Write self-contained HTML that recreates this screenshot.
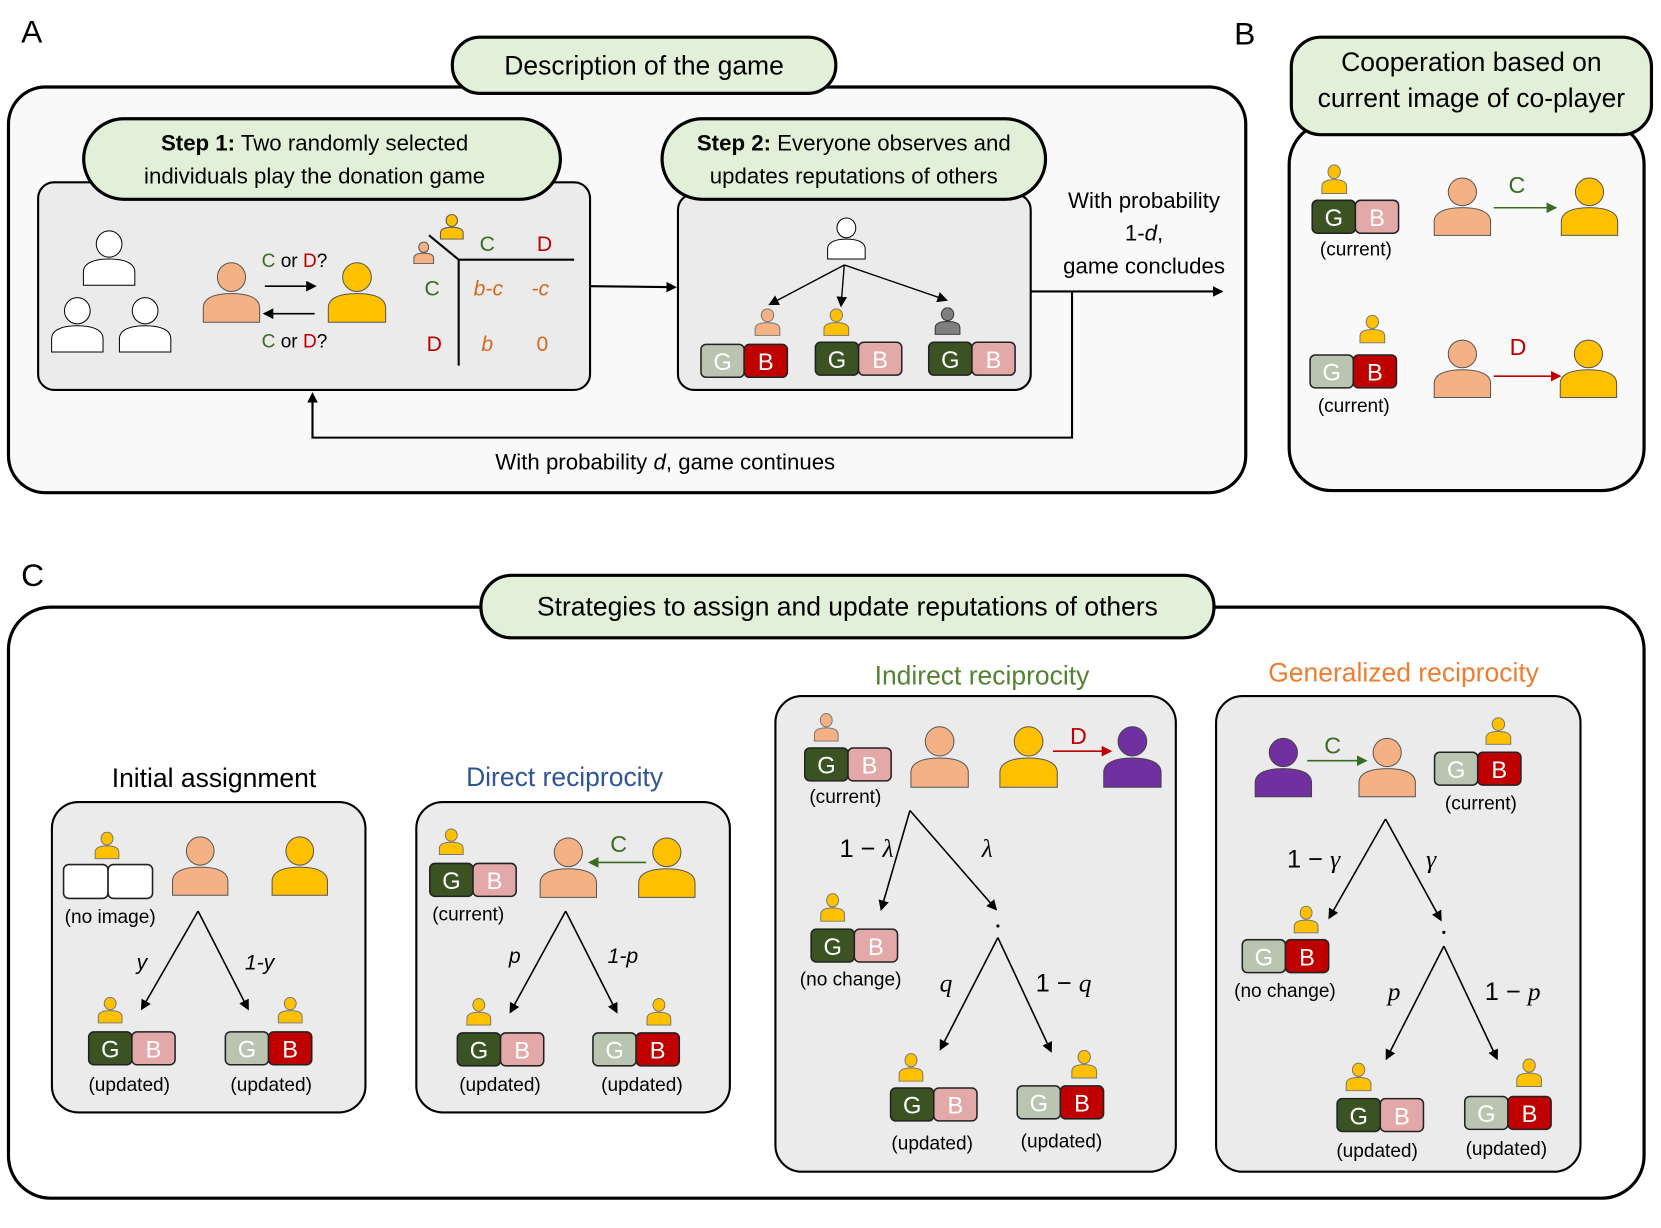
<!DOCTYPE html>
<html><head><meta charset="utf-8"><style>
html,body{margin:0;padding:0;background:#fff}
svg{display:block}
text{font-family:"Liberation Sans",sans-serif}
.c{text-anchor:middle}
.m{font-family:"Liberation Serif",serif;font-style:italic}
</style></head><body>
<svg width="1661" height="1228" viewBox="0 0 1568 1159" xmlns="http://www.w3.org/2000/svg">
<defs>
<symbol id="p" viewBox="0 0 60 60" preserveAspectRatio="none">
<circle cx="30" cy="15" r="14" vector-effect="non-scaling-stroke"/>
<path d="M2 59 V45 C2 35 14 31 30 31 C46 31 58 35 58 45 V59 Z" vector-effect="non-scaling-stroke"/>
</symbol>
<symbol id="gG" viewBox="0 0 86 34">
<rect x="1" y="1" width="42" height="32" rx="5" fill="#3b5323" stroke="#222" stroke-width="1.5"/>
<rect x="43" y="1" width="42" height="32" rx="5" fill="#e3a9a9" stroke="#222" stroke-width="1.5"/>
<text x="22" y="26" class="c" font-size="23" fill="#fff">G</text>
<text x="64" y="26" class="c" font-size="23" fill="#fff">B</text>
</symbol>
<symbol id="gB" viewBox="0 0 86 34">
<rect x="1" y="1" width="42" height="32" rx="5" fill="#b9c4b1" stroke="#222" stroke-width="1.5"/>
<rect x="43" y="1" width="42" height="32" rx="5" fill="#c00000" stroke="#222" stroke-width="1.5"/>
<text x="22" y="26" class="c" font-size="23" fill="#fff">G</text>
<text x="64" y="26" class="c" font-size="23" fill="#fff">B</text>
</symbol>
<marker id="ak" markerWidth="10" markerHeight="10" refX="8" refY="5" orient="auto" markerUnits="userSpaceOnUse"><path d="M0 0 L10 5 L0 10 Z" fill="#000"/></marker>
<marker id="ag" markerWidth="10" markerHeight="10" refX="8" refY="5" orient="auto" markerUnits="userSpaceOnUse"><path d="M0 0 L10 5 L0 10 Z" fill="#3b6b22"/></marker>
<marker id="ar" markerWidth="10" markerHeight="10" refX="8" refY="5" orient="auto" markerUnits="userSpaceOnUse"><path d="M0 0 L10 5 L0 10 Z" fill="#c00000"/></marker>
</defs>

<text x="20" y="40" font-size="30">A</text>
<text x="1165" y="42" font-size="30">B</text>
<text x="20" y="553" font-size="30">C</text>

<!-- PANEL A -->
<rect x="8" y="82" width="1168" height="383" rx="35" fill="#f9f9f9" stroke="#000" stroke-width="3"/>
<rect x="427" y="35" width="362" height="53" rx="26" fill="#e2efd9" stroke="#000" stroke-width="3"/>
<text x="608" y="70" class="c" font-size="25">Description of the game</text>

<rect x="36" y="172" width="521" height="196" rx="15" fill="#ebebeb" stroke="#000" stroke-width="2"/>
<rect x="79" y="112" width="450" height="76" rx="38" fill="#e2efd9" stroke="#000" stroke-width="3"/>
<text x="297" y="142" class="c" font-size="21"><tspan font-weight="bold">Step 1:</tspan> Two randomly selected</text>
<text x="297" y="173" class="c" font-size="21">individuals play the donation game</text>

<rect x="640" y="183" width="333" height="185" rx="15" fill="#ebebeb" stroke="#000" stroke-width="2"/>
<rect x="625" y="112" width="362" height="76" rx="38" fill="#e2efd9" stroke="#000" stroke-width="3"/>
<text x="806" y="142" class="c" font-size="21"><tspan font-weight="bold">Step 2:</tspan> Everyone observes and</text>
<text x="806" y="173" class="c" font-size="21">updates reputations of others</text>

<line x1="557" y1="270" x2="637" y2="271" stroke="#000" stroke-width="2" marker-end="url(#ak)"/>

<use href="#p" x="77" y="217" width="52" height="53" fill="#fff" stroke="#000"/>
<use href="#p" x="47" y="280" width="52" height="53" fill="#fff" stroke="#000"/>
<use href="#p" x="111" y="280" width="52" height="53" fill="#fff" stroke="#000"/>
<use href="#p" x="190" y="247" width="57" height="58" fill="#f4b183" stroke="#555"/>
<use href="#p" x="308" y="247" width="58" height="58" fill="#ffc000" stroke="#555"/>
<text x="278" y="252" class="c" font-size="18"><tspan fill="#3b6b22">C</tspan> or <tspan fill="#c00000">D</tspan>?</text>
<line x1="250" y1="270" x2="297" y2="270" stroke="#000" stroke-width="1.5" marker-end="url(#ak)"/>
<line x1="297" y1="296" x2="250" y2="296" stroke="#000" stroke-width="1.5" marker-end="url(#ak)"/>
<text x="278" y="328" class="c" font-size="18"><tspan fill="#3b6b22">C</tspan> or <tspan fill="#c00000">D</tspan>?</text>

<use href="#p" x="415" y="202" width="23" height="24" fill="#ffc000" stroke="#555"/>
<use href="#p" x="390" y="228" width="20" height="21" fill="#f4b183" stroke="#555"/>
<line x1="405" y1="222" x2="433" y2="245" stroke="#000" stroke-width="2"/>
<line x1="433" y1="245" x2="542" y2="245" stroke="#000" stroke-width="2"/>
<line x1="433" y1="245" x2="433" y2="345" stroke="#000" stroke-width="2"/>
<text x="460" y="237" class="c" font-size="20" fill="#3b6b22">C</text>
<text x="514" y="237" class="c" font-size="20" fill="#c00000">D</text>
<text x="408" y="279" class="c" font-size="20" fill="#3b6b22">C</text>
<text x="410" y="331" class="c" font-size="20" fill="#c00000">D</text>
<text x="461" y="279" class="c" font-size="20" fill="#d46a1e" font-style="italic">b-c</text>
<text x="510" y="279" class="c" font-size="20" fill="#d46a1e" font-style="italic">-c</text>
<text x="460" y="331" class="c" font-size="20" fill="#d46a1e" font-style="italic">b</text>
<text x="512" y="331" class="c" font-size="20" fill="#d46a1e">0</text>

<use href="#p" x="780" y="205" width="38" height="40" fill="#fff" stroke="#000"/>
<line x1="797" y1="250" x2="727" y2="287" stroke="#000" stroke-width="1.3" marker-end="url(#ak)"/>
<line x1="797" y1="250" x2="794" y2="288" stroke="#000" stroke-width="1.3" marker-end="url(#ak)"/>
<line x1="797" y1="250" x2="893" y2="283" stroke="#000" stroke-width="1.3" marker-end="url(#ak)"/>
<use href="#p" x="712" y="291" width="25" height="26" fill="#f4b183" stroke="#777"/>
<use href="#p" x="777" y="291" width="25" height="26" fill="#ffc000" stroke="#777"/>
<use href="#p" x="882" y="290" width="25" height="26" fill="#7f7f7f" stroke="#333"/>
<use href="#gB" x="660" y="324" width="85" height="33"/>
<use href="#gG" x="768" y="322" width="85" height="33"/>
<use href="#gG" x="875" y="322" width="85" height="33"/>

<text x="1080" y="196" class="c" font-size="21">With probability</text>
<text x="1080" y="227" class="c" font-size="21">1-<tspan font-style="italic">d</tspan>,</text>
<text x="1080" y="258" class="c" font-size="21">game concludes</text>
<line x1="973" y1="275" x2="1153" y2="275" stroke="#000" stroke-width="2" marker-end="url(#ak)"/>
<polyline points="1012,275 1012,413 295,413 295,372" fill="none" stroke="#000" stroke-width="2" marker-end="url(#ak)"/>
<text x="628" y="443" class="c" font-size="21">With probability <tspan font-style="italic">d</tspan>, game continues</text>

<!-- PANEL B -->
<rect x="1217" y="115" width="335" height="348" rx="40" fill="#f9f9f9" stroke="#000" stroke-width="3"/>
<rect x="1219" y="35" width="340" height="92" rx="28" fill="#e2efd9" stroke="#000" stroke-width="3"/>
<text x="1389" y="67" class="c" font-size="25">Cooperation based on</text>
<text x="1389" y="101" class="c" font-size="25">current image of co-player</text>

<use href="#p" x="1247" y="155" width="25" height="28" fill="#ffc000" stroke="#777"/>
<use href="#gG" x="1237" y="188" width="85" height="33"/>
<text x="1280" y="241" class="c" font-size="18">(current)</text>
<use href="#p" x="1352" y="167" width="57" height="56" fill="#f4b183" stroke="#555"/>
<line x1="1410" y1="196" x2="1468" y2="196" stroke="#3b6b22" stroke-width="1.5" marker-end="url(#ag)"/>
<text x="1432" y="182" class="c" font-size="22" fill="#3b6b22">C</text>
<use href="#p" x="1472" y="167" width="57" height="56" fill="#ffc000" stroke="#555"/>

<use href="#p" x="1283" y="297" width="25" height="27" fill="#ffc000" stroke="#777"/>
<use href="#gB" x="1235" y="334" width="85" height="33"/>
<text x="1278" y="389" class="c" font-size="18">(current)</text>
<use href="#p" x="1352" y="320" width="57" height="56" fill="#f4b183" stroke="#555"/>
<line x1="1410" y1="355" x2="1472" y2="355" stroke="#c00000" stroke-width="1.5" marker-end="url(#ar)"/>
<text x="1433" y="335" class="c" font-size="22" fill="#c00000">D</text>
<use href="#p" x="1471" y="320" width="57" height="56" fill="#ffc000" stroke="#555"/>

<!-- PANEL C -->
<rect x="8" y="573" width="1544" height="558" rx="40" fill="#fff" stroke="#000" stroke-width="3"/>
<rect x="454" y="543" width="692" height="59" rx="29" fill="#e2efd9" stroke="#000" stroke-width="3"/>
<text x="800" y="581" class="c" font-size="25">Strategies to assign and update reputations of others</text>

<!-- Initial assignment -->
<text x="202" y="743" class="c" font-size="25">Initial assignment</text>
<rect x="49" y="757" width="296" height="293" rx="25" fill="#ebebeb" stroke="#000" stroke-width="2"/>
<use href="#p" x="89" y="785" width="24" height="26" fill="#ffc000" stroke="#777"/>
<rect x="60" y="816" width="42" height="32" rx="5" fill="#fff" stroke="#222" stroke-width="1.5"/>
<rect x="102" y="816" width="42" height="32" rx="5" fill="#fff" stroke="#222" stroke-width="1.5"/>
<text x="104" y="871" class="c" font-size="18">(no image)</text>
<use href="#p" x="161" y="789" width="56" height="57" fill="#f4b183" stroke="#555"/>
<use href="#p" x="255" y="789" width="56" height="57" fill="#ffc000" stroke="#555"/>
<line x1="187" y1="860" x2="134" y2="952" stroke="#000" stroke-width="1.5" marker-end="url(#ak)"/>
<line x1="187" y1="860" x2="234" y2="952" stroke="#000" stroke-width="1.5" marker-end="url(#ak)"/>
<text x="134" y="915" class="c" font-size="20" font-style="italic">y</text>
<text x="245" y="915" class="c" font-size="20" font-style="italic">1-y</text>
<use href="#p" x="92" y="941" width="24" height="25" fill="#ffc000" stroke="#777"/>
<use href="#gG" x="82" y="973" width="85" height="33"/>
<text x="122" y="1030" class="c" font-size="18">(updated)</text>
<use href="#p" x="262" y="941" width="24" height="25" fill="#ffc000" stroke="#777"/>
<use href="#gB" x="211" y="973" width="85" height="33"/>
<text x="256" y="1030" class="c" font-size="18">(updated)</text>

<!-- Direct reciprocity -->
<text x="533" y="742" class="c" font-size="25" fill="#2f5597">Direct reciprocity</text>
<rect x="393" y="757" width="296" height="293" rx="25" fill="#ebebeb" stroke="#000" stroke-width="2"/>
<use href="#p" x="414" y="782" width="24" height="25" fill="#ffc000" stroke="#777"/>
<use href="#gG" x="404" y="814" width="85" height="33"/>
<text x="442" y="869" class="c" font-size="18">(current)</text>
<use href="#p" x="508" y="790" width="57" height="58" fill="#f4b183" stroke="#555"/>
<line x1="610" y1="814" x2="557" y2="814" stroke="#3b6b22" stroke-width="1.5" marker-end="url(#ag)"/>
<text x="584" y="804" class="c" font-size="22" fill="#3b6b22">C</text>
<use href="#p" x="601" y="790" width="57" height="58" fill="#ffc000" stroke="#555"/>
<line x1="534" y1="860" x2="482" y2="955" stroke="#000" stroke-width="1.5" marker-end="url(#ak)"/>
<line x1="534" y1="860" x2="582" y2="955" stroke="#000" stroke-width="1.5" marker-end="url(#ak)"/>
<text x="486" y="909" class="c" font-size="20" font-style="italic">p</text>
<text x="588" y="909" class="c" font-size="20" font-style="italic">1-p</text>
<use href="#p" x="440" y="942" width="24" height="26" fill="#ffc000" stroke="#777"/>
<use href="#gG" x="430" y="974" width="85" height="33"/>
<text x="472" y="1030" class="c" font-size="18">(updated)</text>
<use href="#p" x="610" y="942" width="24" height="26" fill="#ffc000" stroke="#777"/>
<use href="#gB" x="558" y="974" width="85" height="33"/>
<text x="606" y="1030" class="c" font-size="18">(updated)</text>

<!-- Indirect reciprocity -->
<text x="927" y="646" class="c" font-size="25" fill="#548235">Indirect reciprocity</text>
<rect x="732" y="657" width="378" height="449" rx="25" fill="#ebebeb" stroke="#000" stroke-width="2"/>
<use href="#p" x="768" y="673" width="24" height="27" fill="#f4b183" stroke="#777"/>
<use href="#gG" x="758" y="705" width="85" height="33"/>
<text x="798" y="758" class="c" font-size="18">(current)</text>
<use href="#p" x="858" y="685" width="58" height="59" fill="#f4b183" stroke="#555"/>
<use href="#p" x="942" y="685" width="58" height="59" fill="#ffc000" stroke="#555"/>
<line x1="994" y1="709" x2="1048" y2="709" stroke="#c00000" stroke-width="1.5" marker-end="url(#ar)"/>
<text x="1018" y="702" class="c" font-size="22" fill="#c00000">D</text>
<use href="#p" x="1040" y="685" width="58" height="59" fill="#7030a0" stroke="#444"/>
<line x1="859" y1="765" x2="832" y2="858" stroke="#000" stroke-width="1.5" marker-end="url(#ak)"/>
<line x1="859" y1="765" x2="940" y2="858" stroke="#000" stroke-width="1.5" marker-end="url(#ak)"/>
<circle cx="942" cy="874" r="1.5" fill="#000"/>
<text x="818" y="809" class="c" font-size="24" font-family="Liberation Serif">1 − <tspan class="m">λ</tspan></text>
<text x="932" y="809" class="c m" font-size="24">λ</text>
<use href="#p" x="774" y="843" width="24" height="27" fill="#ffc000" stroke="#777"/>
<use href="#gG" x="764" y="876" width="85" height="33"/>
<text x="803" y="930" class="c" font-size="18">(no change)</text>
<line x1="942" y1="885" x2="888" y2="990" stroke="#000" stroke-width="1.5" marker-end="url(#ak)"/>
<line x1="942" y1="885" x2="992" y2="992" stroke="#000" stroke-width="1.5" marker-end="url(#ak)"/>
<text x="893" y="936" class="c m" font-size="24">q</text>
<text x="1004" y="936" class="c" font-size="24" font-family="Liberation Serif">1 − <tspan class="m">q</tspan></text>
<use href="#p" x="848" y="994" width="24" height="27" fill="#ffc000" stroke="#777"/>
<use href="#gG" x="839" y="1026" width="85" height="33"/>
<text x="880" y="1085" class="c" font-size="18">(updated)</text>
<use href="#p" x="1011" y="991" width="25" height="27" fill="#ffc000" stroke="#777"/>
<use href="#gB" x="958" y="1024" width="86" height="33"/>
<text x="1002" y="1083" class="c" font-size="18">(updated)</text>

<!-- Generalized reciprocity -->
<text x="1325" y="643" class="c" font-size="25" fill="#ed7d31">Generalized reciprocity</text>
<rect x="1148" y="657" width="344" height="449" rx="25" fill="#ebebeb" stroke="#000" stroke-width="2"/>
<use href="#p" x="1183" y="696" width="57" height="57" fill="#7030a0" stroke="#444"/>
<line x1="1234" y1="718" x2="1289" y2="718" stroke="#3b6b22" stroke-width="1.5" marker-end="url(#ag)"/>
<text x="1258" y="711" class="c" font-size="22" fill="#3b6b22">C</text>
<use href="#p" x="1281" y="696" width="57" height="57" fill="#f4b183" stroke="#555"/>
<use href="#p" x="1402" y="677" width="25" height="26" fill="#ffc000" stroke="#777"/>
<use href="#gB" x="1352" y="709" width="86" height="33"/>
<text x="1398" y="764" class="c" font-size="18">(current)</text>
<line x1="1308" y1="773" x2="1255" y2="866" stroke="#000" stroke-width="1.5" marker-end="url(#ak)"/>
<line x1="1308" y1="773" x2="1360" y2="868" stroke="#000" stroke-width="1.5" marker-end="url(#ak)"/>
<circle cx="1363" cy="880" r="1.5" fill="#000"/>
<text x="1240" y="819" class="c" font-size="24" font-family="Liberation Serif">1 − <tspan class="m">γ</tspan></text>
<text x="1351" y="819" class="c m" font-size="24">γ</text>
<use href="#p" x="1221" y="855" width="24" height="26" fill="#ffc000" stroke="#777"/>
<use href="#gB" x="1171" y="886" width="85" height="33"/>
<text x="1213" y="941" class="c" font-size="18">(no change)</text>
<line x1="1363" y1="893" x2="1309" y2="999" stroke="#000" stroke-width="1.5" marker-end="url(#ak)"/>
<line x1="1363" y1="893" x2="1413" y2="999" stroke="#000" stroke-width="1.5" marker-end="url(#ak)"/>
<text x="1316" y="944" class="c m" font-size="24">p</text>
<text x="1428" y="944" class="c" font-size="24" font-family="Liberation Serif">1 − <tspan class="m">p</tspan></text>
<use href="#p" x="1270" y="1003" width="25" height="27" fill="#ffc000" stroke="#777"/>
<use href="#gG" x="1260" y="1036" width="86" height="33"/>
<text x="1300" y="1092" class="c" font-size="18">(updated)</text>
<use href="#p" x="1431" y="999" width="25" height="27" fill="#ffc000" stroke="#777"/>
<use href="#gB" x="1381" y="1034" width="85" height="33"/>
<text x="1422" y="1090" class="c" font-size="18">(updated)</text>
</svg>
</body></html>
